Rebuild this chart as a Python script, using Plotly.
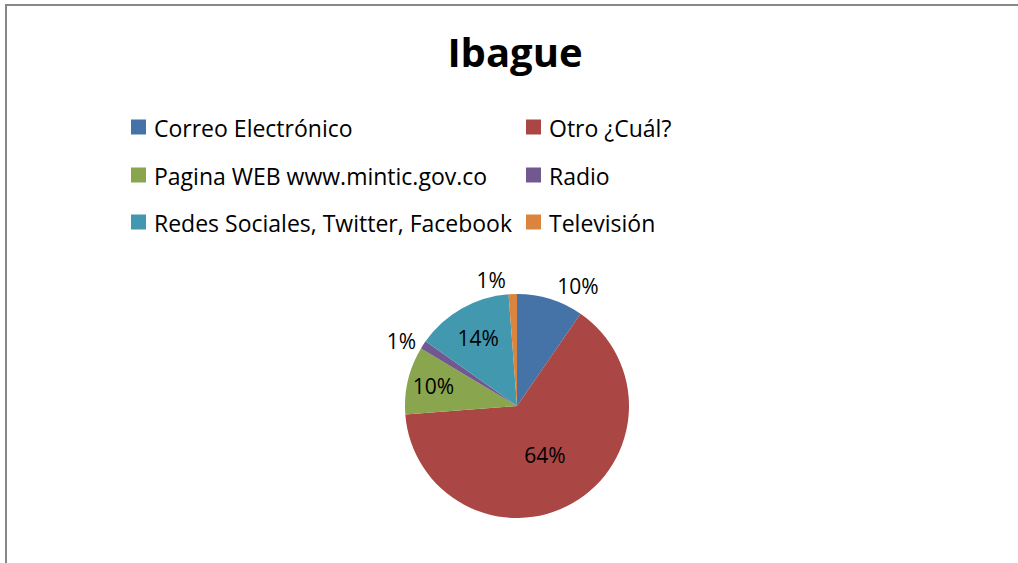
import plotly.graph_objects as go

categories = ["Correo Electrónico", "Otro ¿Cuál?", "Pagina WEB www.mintic.gov.co",
              "Radio", "Redes Sociales, Twitter, Facebook", "Televisión"]
values = [9.6, 64.2, 9.8, 1.2, 14.0, 1.2]
colors = ["#4572A7", "#AA4643", "#89A54E", "#71588F", "#4198AF", "#DB843D"]
text_pos = ["outside", "inside", "inside", "outside", "inside", "outside"]

FONT = "Open Sans"
W, H = 1018, 563

fig = go.Figure(go.Pie(
    labels=categories, values=values, sort=False, direction="clockwise", rotation=0,
    marker=dict(colors=colors, line=dict(width=0)),
    texttemplate="%{percent:.0%}", textposition=text_pos,
    insidetextorientation="horizontal",
    textfont=dict(family=FONT, size=21, color="black"),
    domain=dict(x=[404 / W, 630 / W], y=[1 - 518 / H, 1 - 294 / H]),
    hoverinfo="label+percent",
    showlegend=False,
))

# Manual two-column legend (Excel-style)
col_x = [131, 526]
row_y = [127, 175, 222]
shapes = []
annotations = []
for i, (name, col) in enumerate(zip(categories, colors)):
    cx = col_x[i % 2]
    cy = row_y[i // 2]
    shapes.append(dict(type="rect", xref="paper", yref="paper",
                       x0=cx / W, x1=(cx + 15) / W,
                       y0=1 - (cy + 7.5) / H, y1=1 - (cy - 7.5) / H,
                       fillcolor=col, line=dict(width=0)))
    annotations.append(dict(text=name, xref="paper", yref="paper",
                            x=(cx + 21) / W, y=1 - (cy + 1) / H,
                            xanchor="left", yanchor="middle", showarrow=False,
                            font=dict(family=FONT, size=23, color="black")))

shapes += [
    dict(type="line", xref="paper", yref="paper", x0=5 / W, x1=1, y0=1 - 5 / H, y1=1 - 5 / H,
         line=dict(color="#888888", width=2)),
    dict(type="line", xref="paper", yref="paper", x0=6 / W, x1=6 / W, y0=0, y1=1 - 5 / H,
         line=dict(color="#888888", width=2)),
]

fig.update_layout(
    width=W, height=H,
    margin=dict(l=0, r=0, t=0, b=0),
    paper_bgcolor="white",
    title=dict(text="<b>Ibague</b>", x=515 / W, xanchor="center", y=1 - 53 / H, yanchor="middle",
               font=dict(family=FONT, size=40, color="black")),
    shapes=shapes,
    annotations=annotations,
)

fig.write_html("out.html", config={"displayModeBar": False},
               post_script="document.body.style.margin='0px';")
